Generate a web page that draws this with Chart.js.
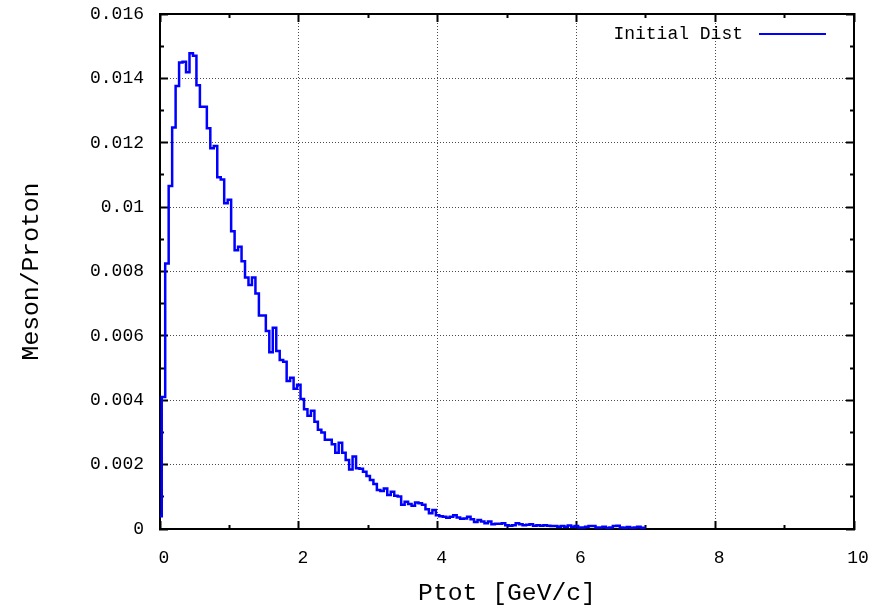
<!DOCTYPE html>
<html>
<head>
<meta charset="utf-8">
<title>Meson/Proton vs Ptot</title>
<script src="https://cdn.jsdelivr.net/npm/chart.js@4.4.0/dist/chart.umd.min.js"></script>
<style>
  html, body { margin: 0; padding: 0; background: #fff; }
  canvas { display: block; }
</style>
</head>
<body>
<canvas id="mycanvas" width="885" height="608"></canvas>
<script>
// histogram bins: centres at 0, 0.05, 0.10 ... GeV/c
const binWidth = 0.05;
const seriesLabel = 'Initial Dist';
const mesonPerProton = [
  0.0004, 0.0041, 0.00825, 0.01066, 0.01247, 0.01376, 0.01449, 0.01452, 0.01419, 0.01478,
  0.01470, 0.01379, 0.01312, 0.01312, 0.01245, 0.01183, 0.01190, 0.01093, 0.01086, 0.01012,
  0.01023, 0.00925, 0.00866, 0.00877, 0.00832, 0.00781, 0.00758, 0.00781, 0.00732, 0.00663,
  0.00663, 0.00615, 0.00549, 0.00625, 0.00553, 0.00525, 0.00520, 0.00460, 0.00470, 0.00436,
  0.00448, 0.00404, 0.00372, 0.00352, 0.00367, 0.00333, 0.00308, 0.00300, 0.00277, 0.00277,
  0.00263, 0.00237, 0.00268, 0.00237, 0.00214, 0.00185, 0.00225, 0.00189, 0.00187, 0.00178,
  0.00165, 0.00152, 0.00140, 0.00121, 0.00118, 0.00126, 0.00106, 0.00116, 0.00103, 0.00101,
  0.00075, 0.00085, 0.00078, 0.00072, 0.00082, 0.00080, 0.00075, 0.00061, 0.00049, 0.00059,
  0.00043, 0.00040, 0.00038, 0.00035, 0.00038, 0.00043, 0.00036, 0.00032, 0.00033, 0.00038,
  0.00030, 0.00022, 0.00028, 0.00023, 0.00018, 0.00023, 0.00015, 0.00016, 0.00016, 0.00018,
  0.00012, 0.00010, 0.00012, 0.00018, 0.00015, 0.00012, 0.00013, 0.00015, 0.00010, 0.00012,
  0.00010, 0.00012, 0.00010, 0.00009, 0.00009, 0.00007, 0.00009, 0.00007, 0.00011, 0.00007,
  0.00009, 0.00005, 0.00005, 0.00007, 0.00009, 0.00009, 0.00005, 0.00005, 0.00007, 0.00003,
  0.00005, 0.00009, 0.00010, 0.00005, 0.00004, 0.00006, 0.00003, 0.00005, 0.00007, 0.00004,
  0.00003
];
const xMajorTicks = [0, 2, 4, 6, 8, 10];
const xMinorTicks = [1, 3, 5, 7, 9];
const yMajorTicks = [0, 0.002, 0.004, 0.006, 0.008, 0.010, 0.012, 0.014, 0.016];
const yMinorTicks = [0.001, 0.003, 0.005, 0.007, 0.009, 0.011, 0.013, 0.015];

const mono = "'Liberation Mono', 'DejaVu Sans Mono', monospace";
const tickFont = {family: mono, size: 18};
const titleFont = {family: mono, size: 24.7};

var points = mesonPerProton.map(function (v, i) {
    return {x: i * binWidth, y: v};
});

function setTicks(list) {
    return function (scale) {
        scale.ticks = list.map(function (v) { return {value: v}; });
    };
}
// fixed axis box size, and no extra room reserved for end labels
function fixSize(size) {
    return function (scale) {
        if (scale.isHorizontal()) scale.height = size;
        else scale.width = size;
        scale.paddingTop = 0;
        scale.paddingBottom = 0;
        scale.paddingLeft = 0;
        scale.paddingRight = 0;
    };
}

// outer axis with labels/frame (weight 1), inner axis for minor ticks only (weight 0)
function majorAxis(position, list, min, max, size, showGrid) {
    return {
        type: 'linear', position: position, min: min, max: max, weight: 1,
        afterBuildTicks: setTicks(list),
        afterFit: fixSize(size),
        ticks: {display: false, autoSkip: false, maxRotation: 0, color: '#000', font: tickFont},
        grid: {drawOnChartArea: showGrid, color: '#4a4a4a', lineWidth: 1,
               tickLength: -8, tickWidth: 2, tickColor: '#000'},
        border: {display: true, color: '#000', width: 2, dash: [1, 2]}
    };
}
function minorAxis(position, list, min, max) {
    return {
        type: 'linear', position: position, min: min, max: max, weight: 0,
        afterBuildTicks: setTicks(list),
        afterFit: fixSize(0),
        ticks: {display: false},
        grid: {drawOnChartArea: false, tickLength: -4, tickWidth: 2, tickColor: '#000'},
        border: {display: false}
    };
}

var xAxis = majorAxis('bottom', xMajorTicks, 0, 10, 79, true);
xAxis.ticks.display = true;
xAxis.ticks.padding = 26;
xAxis.ticks.labelOffset = 4;
xAxis.ticks.callback = function (v) { return String(v); };
xAxis.title = {display: true, text: 'Ptot [GeV/c]', color: '#000', font: titleFont, padding: {top: 0, bottom: 0}};

var yAxis = majorAxis('left', yMajorTicks, 0, 0.016, 160, true);
yAxis.ticks.display = true;
yAxis.ticks.padding = 24;
yAxis.ticks.callback = function (v) { return String(Number(v.toFixed(3))); };
yAxis.title = {display: true, text: 'Meson/Proton', color: '#000', font: titleFont, padding: {top: 17, bottom: 0}};

// gnuplot style key: text on the left, line sample on the right
const keyPlugin = {
    id: 'key',
    afterDatasetsDraw(chart) {
        const ctx = chart.ctx;
        const area = chart.chartArea;
        const ds = chart.data.datasets[0];
        const y = area.top + 20;
        ctx.save();
        ctx.font = "18px " + mono;
        ctx.fillStyle = '#000';
        ctx.textAlign = 'right';
        ctx.textBaseline = 'middle';
        ctx.fillText(ds.label, area.right - 111, y);
        ctx.strokeStyle = ds.borderColor;
        ctx.lineWidth = 2;
        ctx.beginPath();
        ctx.moveTo(area.right - 95, y);
        ctx.lineTo(area.right - 28, y);
        ctx.stroke();
        ctx.restore();
    }
};

var chrt = document.getElementById('mycanvas').getContext('2d');
new Chart(chrt, {
    type: 'line',
    data: {
        datasets: [{
            label: seriesLabel,
            data: points,
            stepped: 'middle',
            borderColor: '#0000ff',
            borderWidth: 2.5,
            pointRadius: 0,
            fill: false,
            xAxisID: 'x',
            yAxisID: 'y'
        }]
    },
    options: {
        responsive: false,
        animation: false,
        layout: {padding: {top: 14, left: 0, right: 0, bottom: 0}},
        plugins: {legend: {display: false}, tooltip: {enabled: false}},
        scales: {
            x: xAxis,
            xMinor: minorAxis('bottom', xMinorTicks, 0, 10),
            xTop: majorAxis('top', xMajorTicks, 0, 10, 0, false),
            xTopMinor: minorAxis('top', xMinorTicks, 0, 10),
            y: yAxis,
            yMinor: minorAxis('left', yMinorTicks, 0, 0.016),
            yRight: majorAxis('right', yMajorTicks, 0, 0.016, 31, false),
            yRightMinor: minorAxis('right', yMinorTicks, 0, 0.016)
        }
    },
    plugins: [keyPlugin]
});
</script>
</body>
</html>
